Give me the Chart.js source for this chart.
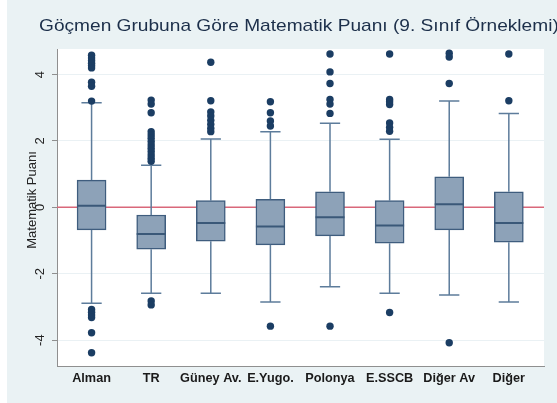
<!DOCTYPE html>
<html>
<head>
<meta charset="utf-8">
<script src="https://cdn.jsdelivr.net/npm/chart.js@4/dist/chart.umd.min.js"></script>
<style>
  html, body { margin: 0; padding: 0; background: #ffffff; }
  #wrap { width: 557px; height: 403px; position: relative; }
</style>
</head>
<body>
<div id="wrap"><canvas id="c"></canvas></div>
<script>
// ---- data ----
const titleText = 'Göçmen Grubuna Göre Matematik Puanı (9. Sınıf Örneklemi)';
const yTitle = 'Matematik Puanı';
const categories = ['Alman', 'TR', 'Güney Av.', 'E.Yugo.', 'Polonya', 'E.SSCB', 'Diğer Av', 'Diğer'];
const q1 =          [-0.68, -1.26, -1.02, -1.13, -0.86, -1.08, -0.68, -1.05];
const medians =     [ 0.05, -0.80, -0.47, -0.58, -0.30, -0.55,  0.09, -0.47];
const q3 =          [ 0.82, -0.23,  0.20,  0.24,  0.47,  0.20,  0.92,  0.47];
const whiskerLow =  [-2.89, -2.59, -2.59, -2.85, -2.39, -2.59, -2.64, -2.85];
const whiskerHigh = [ 3.15,  1.27,  2.06,  2.28,  2.53,  2.05,  3.20,  2.83];
const outliers = [
  [4.58, 4.50, 4.42, 4.34, 4.27, 4.20, 3.77, 3.65, 3.20, -3.08, -3.16, -3.24, -3.32, -3.78, -4.38],
  [3.23, 3.11, 2.85, 2.28, 2.18, 2.08, 1.98, 1.88, 1.78, 1.68, 1.58, 1.48, 1.39, -2.82, -2.94],
  [4.37, 3.21, 2.87, 2.75, 2.62, 2.50, 2.38, 2.28],
  [3.18, 2.85, 2.60, 2.45, -3.58],
  [4.62, 4.08, 3.73, 3.25, 3.11, 2.83, -3.58],
  [4.62, 3.25, 3.18, 3.10, 2.54, 2.41, 2.29, -3.17],
  [4.64, 4.53, 3.73, -4.08],
  [4.62, 3.21]
];
const yTicks = [-4, -2, 0, 2, 4];
const refLineValue = 0;

// ---- axis limits / style constants ----
const xMin = -0.58, xMax = 7.59;
const yMin = -4.78, yMax = 4.77;
const capHalf = 0.17;   // whisker cap half-width (x units)
const boxHalf = 0.243;  // median half-width (x units)

// ---- build library datasets from the arrays ----
const boxData = categories.map((c, i) => ({ x: i, y: [q1[i], q3[i]] }));
const whiskerData = [];
categories.forEach((c, i) => {
  whiskerData.push({ x: i, y: q3[i] }, { x: i, y: whiskerHigh[i] }, { x: i, y: null });
  whiskerData.push({ x: i, y: q1[i] }, { x: i, y: whiskerLow[i] }, { x: i, y: null });
  whiskerData.push({ x: i - capHalf, y: whiskerHigh[i] }, { x: i + capHalf, y: whiskerHigh[i] }, { x: i, y: null });
  whiskerData.push({ x: i - capHalf, y: whiskerLow[i] }, { x: i + capHalf, y: whiskerLow[i] }, { x: i, y: null });
});
const medianData = [];
categories.forEach((c, i) => {
  medianData.push({ x: i - boxHalf, y: medians[i] }, { x: i + boxHalf, y: medians[i] }, { x: i, y: null });
});
const outlierData = [];
outliers.forEach((arr, i) => arr.forEach(v => outlierData.push({ x: i, y: v })));
const refData = [{ x: xMin, y: refLineValue }, { x: xMax, y: refLineValue }];

const decor = {
  id: 'decor',
  beforeDraw(chart) {
    const { ctx, chartArea: a } = chart;
    ctx.save();
    ctx.fillStyle = '#ffffff';
    ctx.fillRect(0, 0, chart.width, chart.height);
    ctx.fillStyle = '#EAF2F4';
    ctx.fillRect(7, 0, chart.width - 7, chart.height);
    ctx.fillStyle = '#ffffff';
    ctx.fillRect(a.left, a.top, a.right - a.left, a.bottom - a.top);
    ctx.restore();
  },
  afterDraw(chart) {
    const { ctx } = chart;
    ctx.save();
    ctx.fillStyle = '#1C2F4A';
    ctx.font = '17px "Liberation Sans", Arial, sans-serif';
    ctx.textBaseline = 'alphabetic';
    ctx.translate(39, 31);
    ctx.scale(1.125, 1);
    ctx.fillText(titleText, 0, 0);
    ctx.restore();

    ctx.save();
    ctx.fillStyle = '#222222';
    ctx.font = '13px "Liberation Sans", Arial, sans-serif';
    ctx.textAlign = 'center';
    ctx.textBaseline = 'middle';
    ctx.translate(32, 200);
    ctx.rotate(-Math.PI / 2);
    ctx.fillText(yTitle, 0, 0);
    ctx.restore();
  }
};

new Chart(document.getElementById('c'), {
  data: {
    datasets: [
      { type: 'line', data: refData, borderColor: '#D9687A', borderWidth: 1.5, pointRadius: 0, order: 5 },
      { type: 'bar', data: boxData, backgroundColor: '#8DA2B8', borderColor: '#3F5D7E', borderWidth: 1.5,
        borderSkipped: false, barThickness: 29, order: 4 },
      { type: 'line', data: whiskerData, borderColor: '#5D7C9B', borderWidth: 1.5, pointRadius: 0,
        spanGaps: false, order: 3 },
      { type: 'line', data: medianData, borderColor: '#3A5878', borderWidth: 2, pointRadius: 0,
        spanGaps: false, order: 2 },
      { type: 'scatter', data: outlierData, backgroundColor: '#1B3D63', borderColor: '#1B3D63',
        pointRadius: 3.7, borderWidth: 0, order: 1 }
    ]
  },
  options: {
    responsive: true,
    maintainAspectRatio: false,
    animation: false,
    layout: { padding: { top: 49, right: 13, left: 0, bottom: 0 } },
    plugins: { legend: { display: false }, tooltip: { enabled: false }, title: { display: false } },
    scales: {
      x: {
        type: 'linear',
        offset: false,
        min: xMin, max: xMax,
        afterBuildTicks(scale) { scale.ticks = categories.map((c, i) => ({ value: i })); },
        afterFit(scale) { scale.height = 37; },
        ticks: {
          callback: (v) => categories[v] !== undefined ? categories[v] : '',
          font: { size: 12.7, weight: 'bold', family: '"Liberation Sans", Arial, sans-serif' },
          color: '#1a1a1a',
          padding: 5,
          maxRotation: 0, minRotation: 0, autoSkip: false
        },
        grid: { display: true, offset: false, color: 'rgba(0,0,0,0)', drawTicks: false },
        border: { display: true, color: '#8f8f8f', width: 1 }
      },
      y: {
        type: 'linear',
        min: yMin, max: yMax,
        afterBuildTicks(scale) { scale.ticks = yTicks.map(v => ({ value: v })); },
        afterFit(scale) { scale.width = 57; },
        ticks: {
          font: { size: 13, family: '"Liberation Sans", Arial, sans-serif' },
          color: '#222222',
          minRotation: 90, maxRotation: 90,
          crossAlign: 'center',
          padding: 6
        },
        grid: { color: '#EAF1F4', lineWidth: 1, tickColor: '#8f8f8f', tickLength: 5 },
        border: { display: true, color: '#8f8f8f', width: 1 }
      }
    }
  },
  plugins: [decor]
});
</script>
</body>
</html>
